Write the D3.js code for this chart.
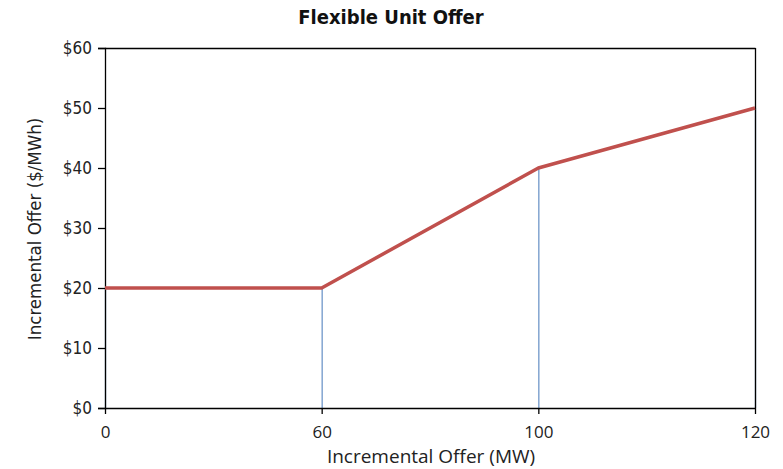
<!DOCTYPE html>
<html><head><meta charset="utf-8">
<script src="https://cdn.jsdelivr.net/npm/d3@7"></script>
<style>body{margin:0;background:#fff}</style>
</head><body>
<svg id="c" width="783" height="469"></svg>
<script>
const categories = [0, 60, 100, 120];
const offerValues = [20, 20, 40, 50];
const yTicks = [0, 10, 20, 30, 40, 50, 60];
const title = "Flexible Unit Offer";
const xTitle = "Incremental Offer (MW)";
const yTitle = "Incremental Offer ($/MWh)";

const svg = d3.select("#c");
const L = 105, R = 755, T = 48, B = 408;
const narrow = "'DejaVu Sans Condensed','Liberation Sans Narrow','Arial Narrow',sans-serif";
const x = d3.scalePoint().domain(categories).range([L, R]);
const y = d3.scaleLinear().domain([0, 60]).range([B, T]);

// drop lines
svg.append("g").selectAll("line").data(categories).join("line")
  .attr("x1", d => x(d) + 0.5).attr("x2", d => x(d) + 0.5)
  .attr("y1", (d, i) => y(offerValues[i])).attr("y2", y(0))
  .attr("stroke", "#7097c9").attr("stroke-width", 1.3);

// border top/right
svg.append("line").attr("x1", L).attr("x2", R + 0.5).attr("y1", T + 0.5).attr("y2", T + 0.5).attr("stroke", "#000").attr("stroke-width", 1.3);
svg.append("line").attr("x1", R + 0.5).attr("x2", R + 0.5).attr("y1", T).attr("y2", B).attr("stroke", "#000").attr("stroke-width", 1.3);

// y axis
const ya = svg.append("g").attr("transform", `translate(${L},0)`)
  .call(d3.axisLeft(y).tickValues(yTicks).tickSize(7).tickPadding(6).tickFormat(d => "$" + d));
ya.select(".domain").attr("stroke", "#000").attr("stroke-width", 1.3);
ya.selectAll(".tick line").attr("stroke", "#000").attr("stroke-width", 1.3);
ya.selectAll("text").attr("font-family", narrow).attr("font-size", 17).attr("fill", "#222");

// x axis
const xa = svg.append("g").attr("transform", `translate(0,${B})`)
  .call(d3.axisBottom(x).tickSize(6).tickPadding(12).tickSizeOuter(0));
xa.select(".domain").attr("stroke", "#000").attr("stroke-width", 1.3);
xa.selectAll(".tick line").attr("stroke", "#000").attr("stroke-width", 1.3);
xa.selectAll("text").attr("font-family", "'Open Sans','DejaVu Sans',sans-serif").attr("font-size", 17).attr("fill", "#222");

// line
svg.append("path")
  .datum(categories.map((c, i) => [c, offerValues[i]]))
  .attr("fill", "none").attr("stroke", "#c0504d").attr("stroke-width", 3.5)
  .attr("stroke-linejoin", "round")
  .attr("d", d3.line().x(d => x(d[0])).y(d => y(d[1])));

// titles
svg.append("text").attr("x", 391).attr("y", 24).attr("text-anchor", "middle")
  .attr("font-family", narrow).attr("font-weight", "bold").attr("font-size", 20).attr("fill", "#111").text(title);
svg.append("text").attr("x", 431).attr("y", 463).attr("text-anchor", "middle")
  .attr("font-family", "'Open Sans','DejaVu Sans',sans-serif").attr("font-size", 19).attr("fill", "#222").text(xTitle);
svg.append("text").attr("transform", `translate(41,${229}) rotate(-90)`).attr("text-anchor", "middle")
  .attr("font-family", narrow).attr("font-size", 18.5).attr("fill", "#222").text(yTitle);
</script>
</body></html>
